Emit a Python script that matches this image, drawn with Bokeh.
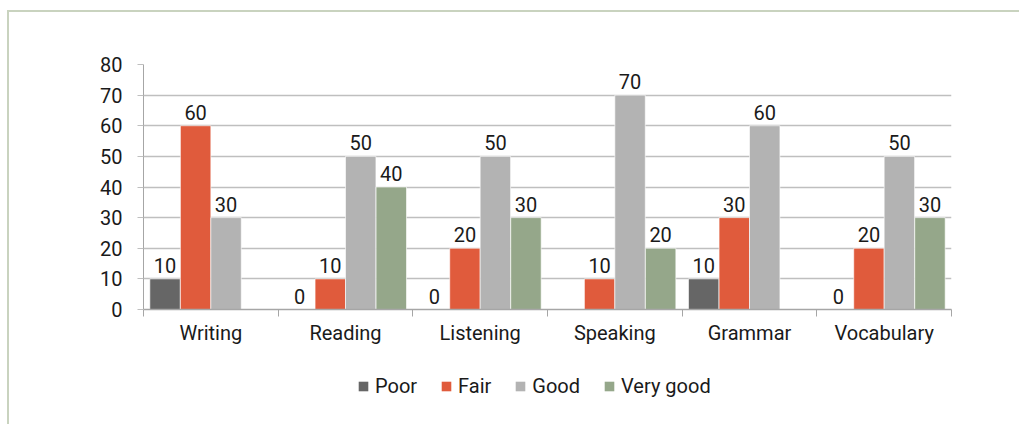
from bokeh.plotting import figure
from bokeh.layouts import column
from bokeh.models import (ColumnDataSource, FixedTicker, Legend, LegendItem,
                          LabelSet, Range1d)
from bokeh.core.properties import value
from bokeh.embed import file_html
from bokeh.resources import INLINE

categories = ["Writing", "Reading", "Listening", "Speaking", "Grammar", "Vocabulary"]
series = ["Poor", "Fair", "Good", "Very good"]
poor = [10, 0, 0, None, 10, 0]
fair = [60, 10, 20, 10, 30, 20]
good = [30, 50, 50, 70, 60, 50]
very_good = [None, 40, 30, 20, None, 30]
y_ticks = [0, 10, 20, 30, 40, 50, 60, 70, 80]

colors = ["#666666", "#e05b3c", "#b3b3b3", "#95a78a"]
offsets = [-0.34, -0.113, 0.113, 0.34]
bar_w = 0.226
FONT = "Roboto"
W = 1019
LEG_H = 66
MAIN_H = 358

p = figure(width=W, height=MAIN_H, output_backend="svg", toolbar_location=None,
           x_range=Range1d(0, 6), y_range=Range1d(0, 80),
           min_border_left=143, min_border_right=68, min_border_top=64,
           min_border_bottom=49)
p.outline_line_color = None
p.background_fill_color = "white"
p.border_fill_alpha = 0

# legend strip below the chart (frames are aligned by the column layout)
lf = figure(width=W, height=LEG_H, output_backend="svg", toolbar_location=None,
            x_range=p.x_range, y_range=Range1d(1000, 1001),
            x_axis_location=None, y_axis_location=None,
            min_border_left=143, min_border_right=68, min_border_top=0,
            min_border_bottom=0)
lf.outline_line_color = None
lf.background_fill_alpha = 0
lf.border_fill_alpha = 0
lf.xgrid.visible = False
lf.ygrid.visible = False

items = []
for name, vals, col, off in zip(series, [poor, fair, good, very_good], colors, offsets):
    xs = [i + 0.5 + off for i, v in enumerate(vals) if v is not None]
    ys = [v for v in vals if v is not None]
    src = ColumnDataSource(dict(x=xs, top=ys, lab=[str(v) for v in ys]))
    p.vbar(x="x", top="top", width=bar_w, bottom=0, source=src,
           fill_color=col, line_color="white", line_alpha=0.6, line_width=1)
    lbl = LabelSet(x="x", y="top", text="lab", source=src, text_align="center",
                   text_baseline="bottom", y_offset=6, text_font=value(FONT),
                   text_font_size="20px", text_color="#1a1a1a")
    p.add_layout(lbl)
    # same series in the legend strip, zero width and out of range:
    # only its legend swatch is seen
    r = lf.vbar(x="x", top="top", width=0, bottom=0, source=src,
                fill_color=col, line_color=None)
    items.append(LegendItem(label=name, renderers=[r]))

# axes
p.xaxis.ticker = FixedTicker(ticks=[i + 0.5 for i in range(6)],
                             minor_ticks=list(range(7)))
p.xaxis.major_label_overrides = {i + 0.5: c for i, c in enumerate(categories)}
p.xaxis.major_tick_line_color = None
p.xaxis.minor_tick_line_color = "#a6a6a6"
p.xaxis.minor_tick_in = 0
p.xaxis.minor_tick_out = 7
p.xaxis.axis_line_color = "#a6a6a6"
p.xaxis.axis_line_width = 1.5
p.xaxis.major_label_text_font = FONT
p.xaxis.major_label_text_font_size = "20px"
p.xaxis.major_label_text_color = "#1a1a1a"
p.xaxis.major_label_standoff = 4

p.yaxis.ticker = FixedTicker(ticks=y_ticks)
p.yaxis.major_tick_in = 0
p.yaxis.major_tick_out = 6
p.yaxis.major_tick_line_color = "#bfbfbf"
p.yaxis.minor_tick_line_color = None
p.yaxis.axis_line_color = "#a6a6a6"
p.yaxis.major_label_text_font = FONT
p.yaxis.major_label_text_font_size = "20px"
p.yaxis.major_label_text_color = "#1a1a1a"
p.yaxis.major_label_standoff = 15

p.xgrid.grid_line_color = None
p.ygrid.ticker = FixedTicker(ticks=y_ticks)
p.ygrid.grid_line_color = "#bfbfbf"
p.ygrid.grid_line_width = 1.5

legend = Legend(items=items, orientation="horizontal", location=(214, 26),
                padding=0, margin=0, spacing=23, glyph_width=12, glyph_height=12,
                label_standoff=6, label_text_font=FONT, label_text_font_size="20px",
                label_text_color="#1a1a1a", border_line_color=None,
                background_fill_alpha=0)
lf.add_layout(legend, "center")

layout = column(p, lf, spacing=0)
layout.styles = {
    "background-image": "linear-gradient(#c9d3bf,#c9d3bf), linear-gradient(#c9d3bf,#c9d3bf)",
    "background-size": "2px 100%, 100% 2px",
    "background-position": "7px 10px, 7px 10px",
    "background-repeat": "no-repeat",
}

open("out.html", "w").write(file_html(layout, INLINE))
